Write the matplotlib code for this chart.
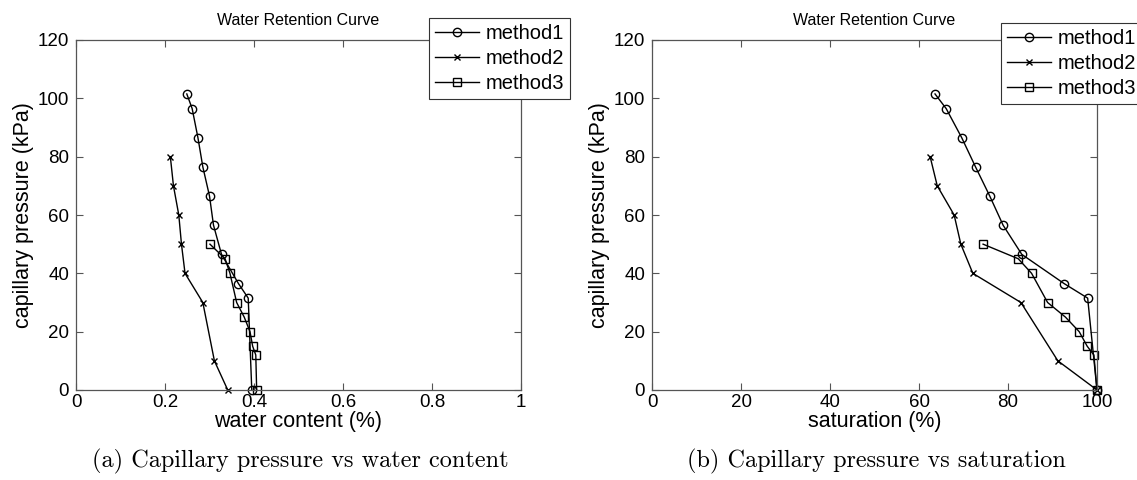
import matplotlib
matplotlib.use("Agg")
import matplotlib.pyplot as plt

# values
pressure1 = [101.5, 96.5, 86.5, 76.5, 66.5, 56.5, 46.5, 36.5, 31.5, 0]
wc1 = [0.249, 0.261, 0.274, 0.285, 0.300, 0.309, 0.327, 0.365, 0.387, 0.395]
sat1 = [63.6, 66.1, 69.6, 72.7, 75.9, 78.9, 83.1, 92.6, 97.9, 100]

pressure2 = [80, 70, 60, 50, 40, 30, 10, 0]
wc2 = [0.212, 0.219, 0.231, 0.237, 0.245, 0.285, 0.311, 0.341]
sat2 = [62.5, 64.1, 67.9, 69.4, 72.1, 82.9, 91.2, 100]

pressure3 = [50, 45, 40, 30, 25, 20, 15, 12, 0]
wc3 = [0.301, 0.335, 0.346, 0.361, 0.378, 0.391, 0.397, 0.404, 0.406]
sat3 = [74.4, 82.3, 85.3, 88.9, 92.9, 96.0, 97.8, 99.3, 100]

labels = ["method1", "method2", "method3"]
wc_ticks = [0, 0.2, 0.4, 0.6, 0.8, 1]
wc_ticklabels = ["0", "0.2", "0.4", "0.6", "0.8", "1"]
sat_ticks = [0, 20, 40, 60, 80, 100]
p_ticks = [0, 20, 40, 60, 80, 100, 120]

plt.rcParams["font.family"] = ["Liberation Sans", "DejaVu Sans"]

fig = plt.figure(figsize=(11.37, 4.8), dpi=100)
ax1 = fig.add_axes([76 / 1137, 90 / 480, 445 / 1137, 350 / 480])
ax2 = fig.add_axes([652 / 1137, 90 / 480, 445 / 1137, 350 / 480])

styles = [
    dict(marker="o", markersize=6, markerfacecolor="none"),
    dict(marker="x", markersize=5),
    dict(marker="s", markersize=6, markerfacecolor="none"),
]


def draw(ax, xs, xlabel, xlim, xticks, xticklabels, legend_xy):
    ys = [pressure1, pressure2, pressure3]
    for x, y, lab, st in zip(xs, ys, labels, styles):
        ax.plot(x, y, color="black", linewidth=1.0, markeredgewidth=1.0,
                markeredgecolor="black", label=lab, clip_on=False, **st)
    ax.set_xlim(xlim)
    ax.set_ylim(0, 120)
    ax.set_xticks(xticks)
    ax.set_xticklabels(xticklabels)
    ax.set_yticks(p_ticks)
    ax.tick_params(direction="in", top=True, right=True, length=5,
                   width=0.8, labelsize=13.5, color="#555555")
    ax.tick_params(axis="x", pad=3)
    ax.tick_params(axis="y", pad=5)
    for sp in ax.spines.values():
        sp.set_color("#555555")
        sp.set_linewidth(0.9)
    ax.set_xlabel(xlabel, fontsize=15.5, labelpad=0)
    ax.set_ylabel("capillary pressure (kPa)", fontsize=15.5, labelpad=3)
    ax.set_title("Water Retention Curve", fontsize=11.5, pad=11)
    leg = ax.legend(loc="upper left", bbox_to_anchor=legend_xy, fontsize=14.5,
                    frameon=True, fancybox=False, framealpha=1,
                    edgecolor="#333333", handlelength=2.2, handletextpad=0.3,
                    labelspacing=0.3, borderpad=0.3, borderaxespad=0)
    leg.get_frame().set_linewidth(0.8)


draw(ax1, [wc1, wc2, wc3], "water content (%)", (0, 1), wc_ticks, wc_ticklabels,
     (0.793, 1.063))
draw(ax2, [sat1, sat2, sat3], "saturation (%)", (0, 100), sat_ticks,
     [str(t) for t in sat_ticks], (0.784, 1.049))

fig.text(300 / 1137, 1 - 461 / 480, "(a) Capillary pressure vs water content",
         ha="center", va="center", fontsize=17.5, family="cmr10")
fig.text(876 / 1137, 1 - 461 / 480, "(b) Capillary pressure vs saturation",
         ha="center", va="center", fontsize=17.5, family="cmr10")

fig.savefig("out.png", dpi=100)
